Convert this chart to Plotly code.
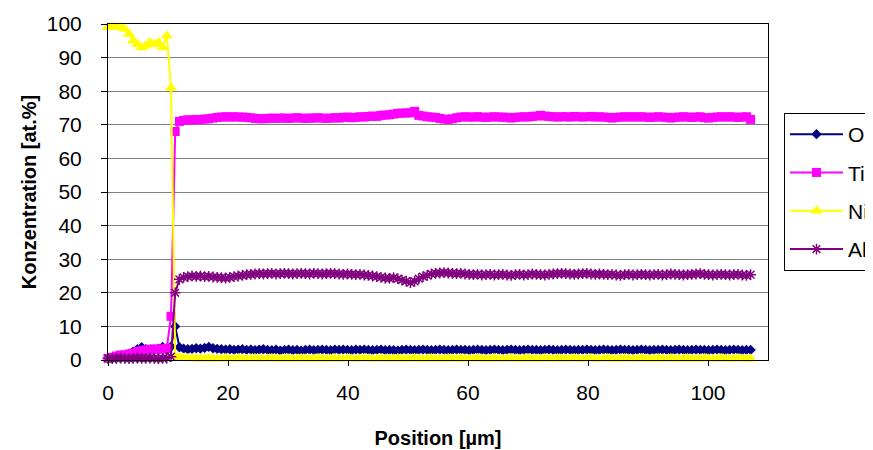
import plotly.graph_objects as go

position = [
    0.0, 0.7, 1.4, 2.1, 2.8, 3.5, 4.2, 4.9, 5.6, 6.3,
    7.0, 7.7, 8.4, 9.1, 9.8, 10.5, 11.2, 11.9, 12.6, 13.3,
    14.0, 14.7, 15.4, 16.1, 16.8, 17.5, 18.2, 18.9, 19.6, 20.3,
    21.0, 21.7, 22.4, 23.1, 23.8, 24.5, 25.2, 25.9, 26.6, 27.3,
    28.0, 28.7, 29.4, 30.1, 30.8, 31.5, 32.2, 32.9, 33.6, 34.3,
    35.0, 35.7, 36.4, 37.1, 37.8, 38.5, 39.2, 39.9, 40.6, 41.3,
    42.0, 42.7, 43.4, 44.1, 44.8, 45.5, 46.2, 46.9, 47.6, 48.3,
    49.0, 49.7, 50.4, 51.1, 51.8, 52.5, 53.2, 53.9, 54.6, 55.3,
    56.0, 56.7, 57.4, 58.1, 58.8, 59.5, 60.2, 60.9, 61.6, 62.3,
    63.0, 63.7, 64.4, 65.1, 65.8, 66.5, 67.2, 67.9, 68.6, 69.3,
    70.0, 70.7, 71.4, 72.1, 72.8, 73.5, 74.2, 74.9, 75.6, 76.3,
    77.0, 77.7, 78.4, 79.1, 79.8, 80.5, 81.2, 81.9, 82.6, 83.3,
    84.0, 84.7, 85.4, 86.1, 86.8, 87.5, 88.2, 88.9, 89.6, 90.3,
    91.0, 91.7, 92.4, 93.1, 93.8, 94.5, 95.2, 95.9, 96.6, 97.3,
    98.0, 98.7, 99.4, 100.1, 100.8, 101.5, 102.2, 102.9, 103.6, 104.3,
    105.0, 105.7, 106.4, 107.1,
]

o_values = [
    0.5, 0.5, 0.6, 0.8, 1.2, 1.8, 2.5, 3.2, 3.8, 3.2, 2.8, 3.0, 3.4, 3.9, 3.0, 4.0, 10.0,
    3.8, 3.4, 3.2, 3.3, 3.5, 3.4, 3.6, 3.9, 3.5, 3.3,
    3.2, 3.1, 3.2, 3.0, 3.1, 3.2, 3.0, 3.1, 2.9, 3.1,
    3.2, 3.0, 2.9, 3.1, 2.8, 3.0, 3.1, 2.9, 3.0, 2.8,
    3.0, 3.1, 2.9, 3.0, 3.1, 3.0, 2.9, 3.1, 3.0, 3.1,
    3.0, 2.9, 3.1, 3.0, 3.1, 3.0, 2.9, 3.0, 3.1, 2.9,
    3.0, 2.9, 2.8, 3.0, 3.1, 3.0, 2.9, 3.0, 3.1, 3.0,
    2.9, 3.0, 3.1, 3.0, 2.9, 3.0, 3.1, 3.0, 3.0, 2.9,
    3.0, 3.1, 3.0, 2.9, 3.0, 3.1, 3.0, 2.9, 3.0, 3.1,
    3.0, 2.9, 3.0, 3.1, 3.0, 3.0, 2.9, 3.0, 3.1, 3.0,
    2.9, 3.0, 3.1, 3.0, 2.9, 3.0, 3.0, 3.1, 3.0, 2.9,
    3.0, 3.1, 3.0, 2.9, 3.0, 3.1, 3.0, 3.0, 2.9, 3.0,
    3.1, 3.0, 2.9, 3.0, 3.0, 3.1, 3.0, 2.9, 3.0, 3.1,
    3.0, 2.9, 3.0, 3.1, 3.0, 3.0, 2.9, 3.0, 3.1, 3.0,
    2.9, 3.0, 3.1, 3.0, 2.9, 3.0, 3.0,
]

ti_values = [
    0.5, 0.8, 1.2, 1.5, 1.5, 1.8, 2.0, 2.5, 2.8, 3.0, 3.2, 3.3, 3.2, 3.3, 3.5, 13.0, 68.0,
    71.0, 71.3, 71.5, 71.4, 71.6, 71.5, 71.7, 71.8, 72.0, 72.2,
    72.3, 72.4, 72.3, 72.4, 72.3, 72.3, 72.2, 72.1, 71.9, 71.8,
    71.8, 71.9, 72.0, 71.9, 72.0, 72.0, 71.9, 72.0, 72.1, 72.0,
    71.9, 72.0, 72.0, 72.1, 72.0, 71.9, 72.0, 72.1, 72.0, 72.2,
    72.3, 72.1, 72.2, 72.4, 72.3, 72.5, 72.6, 72.5, 72.8, 72.9,
    73.0, 73.2, 73.4, 73.5, 73.5, 73.6, 74.0, 72.8, 72.6, 72.4,
    72.3, 72.2, 71.9, 71.7, 71.6, 71.8, 72.1, 72.3, 72.4, 72.3,
    72.3, 72.4, 72.3, 72.2, 72.3, 72.4, 72.3, 72.3, 72.2, 72.0,
    72.2, 72.3, 72.4, 72.3, 72.5, 72.6, 72.8, 72.6, 72.5, 72.4,
    72.3, 72.4, 72.4, 72.3, 72.5, 72.4, 72.3, 72.4, 72.5, 72.3,
    72.4, 72.3, 72.2, 72.0, 72.2, 72.3, 72.4, 72.3, 72.4, 72.3,
    72.4, 72.3, 72.2, 72.3, 72.4, 72.3, 72.2, 72.0, 72.2, 72.3,
    72.4, 72.3, 72.2, 72.3, 72.4, 72.1, 72.0, 72.2, 72.3, 72.4,
    72.3, 72.4, 72.3, 72.2, 72.3, 72.4, 71.6,
]

ni_values = [
    99.0, 99.2, 99.0, 99.1, 98.5, 97.0, 95.0, 94.0, 93.0, 93.5, 94.5, 94.0, 94.5, 93.0, 96.5, 81.0, 1.0,
    0.8, 0.6, 0.5, 0.4, 0.5, 0.3, 0.4, 0.5, 0.4, 0.3,
    0.4, 0.5, 0.3, 0.4, 0.5, 0.4, 0.3, 0.4, 0.5, 0.4,
    0.3, 0.4, 0.5, 0.4, 0.3, 0.5, 0.4, 0.3, 0.4, 0.5,
    0.4, 0.3, 0.4, 0.5, 0.4, 0.3, 0.4, 0.5, 0.4, 0.3,
    0.5, 0.4, 0.3, 0.4, 0.5, 0.4, 0.3, 0.4, 0.5, 0.4,
    0.3, 0.4, 0.5, 0.4, 0.3, 0.4, 0.5, 0.4, 0.3, 0.4,
    0.5, 0.4, 0.3, 0.4, 0.5, 0.4, 0.3, 0.5, 0.4, 0.3,
    0.4, 0.5, 0.4, 0.3, 0.4, 0.5, 0.4, 0.3, 0.4, 0.5,
    0.4, 0.3, 0.4, 0.5, 0.4, 0.3, 0.4, 0.5, 0.4, 0.3,
    0.5, 0.4, 0.3, 0.4, 0.5, 0.4, 0.3, 0.4, 0.5, 0.4,
    0.3, 0.4, 0.5, 0.4, 0.3, 0.4, 0.5, 0.4, 0.3, 0.4,
    0.5, 0.4, 0.3, 0.4, 0.5, 0.4, 0.3, 0.5, 0.4, 0.3,
    0.4, 0.5, 0.4, 0.3, 0.4, 0.5, 0.4, 0.3, 0.4, 0.5,
    0.4, 0.3, 0.4, 0.5, 0.4, 0.3, 0.4,
]

al_values = [
    0.5, 0.4, 0.5, 0.6, 0.5, 0.4, 0.5, 0.6, 0.5, 0.5, 0.6, 0.5, 0.4, 0.5, 0.6, 1.0, 20.0,
    24.0, 24.6, 24.8, 25.0, 24.9, 25.0, 24.8, 24.9, 24.7, 24.6,
    24.5, 24.4, 24.6, 24.8, 25.0, 25.2, 25.4, 25.5, 25.6, 25.7,
    25.6, 25.7, 25.8, 25.6, 25.7, 25.8, 25.7, 25.6, 25.7, 25.8,
    25.7, 25.6, 25.8, 25.7, 25.6, 25.7, 25.8, 25.7, 25.6, 25.5,
    25.6, 25.5, 25.4, 25.5, 25.3, 25.2, 25.0, 24.8, 24.6, 24.4,
    24.3, 24.5, 24.2, 23.8, 23.5, 23.0, 23.4, 24.2, 24.8, 25.2,
    25.6, 25.8, 25.9, 26.0, 25.9, 25.8, 25.7, 25.8, 25.6, 25.5,
    25.4, 25.5, 25.3, 25.4, 25.5, 25.3, 25.4, 25.5, 25.3, 25.2,
    25.4, 25.5, 25.3, 25.4, 25.6, 25.5, 25.4, 25.3, 25.5, 25.6,
    25.7, 25.8, 25.7, 25.6, 25.5, 25.6, 25.7, 25.8, 25.6, 25.5,
    25.6, 25.5, 25.4, 25.5, 25.3, 25.2, 25.4, 25.5, 25.3, 25.4,
    25.5, 25.4, 25.3, 25.4, 25.5, 25.3, 25.4, 25.6, 25.5, 25.4,
    25.3, 25.4, 25.5, 25.6, 25.7, 25.5, 25.4, 25.3, 25.4, 25.5,
    25.4, 25.3, 25.4, 25.5, 25.3, 25.2, 25.4,
]

series_names = ["O", "Ti", "Ni", "Al"]
x_tick_values = [0, 20, 40, 60, 80, 100]
y_tick_values = [0, 10, 20, 30, 40, 50, 60, 70, 80, 90, 100]

styles = [
    dict(color="#000080", symbol="diamond", size=8),
    dict(color="#FF00FF", symbol="square", size=9),
    dict(color="#FFFF00", symbol="triangle-up", size=11),
    dict(color="#800080", symbol="asterisk-open", size=9),
]

PAD = "\u00a0" * 8  # legend box runs past the right edge in the reference

fig = go.Figure()
for name, vals, st in zip(series_names, [o_values, ti_values, ni_values, al_values], styles):
    marker = dict(symbol=st["symbol"], size=st["size"], color=st["color"])
    if st["symbol"] == "asterisk-open":
        marker["line"] = dict(color=st["color"], width=1.5)
    fig.add_trace(go.Scatter(
        x=position, y=vals, name=name + PAD, mode="lines+markers",
        line=dict(color=st["color"], width=2),
        marker=marker, cliponaxis=False, legendgroup=name,
    ))

FONT = "Liberation Sans, Arial, sans-serif"

# page body adds an 8px offset at top-left, so the figure is 8px smaller
fig.update_layout(
    width=865, height=442,
    margin=dict(l=100, r=105, t=16, b=90, autoexpand=False),
    paper_bgcolor="white", plot_bgcolor="white",
    font=dict(family=FONT, color="black"),
    showlegend=True,
    legend=dict(
        x=(784 - 108) / 660, y=(360 - 113) / 336, xanchor="left", yanchor="top",
        bordercolor="black", borderwidth=1, bgcolor="white",
        font=dict(family=FONT, size=21, color="black"),
        tracegroupgap=8, itemwidth=53,
    ),
    xaxis=dict(
        range=[0, 110], tickvals=x_tick_values, showgrid=False, zeroline=False,
        showline=True, linecolor="black", linewidth=1, mirror=True,
        ticks="outside", ticklen=5, tickcolor="black",
        tickfont=dict(family=FONT, size=21), ticklabelstandoff=9,
        title=dict(text="<b>Position [µm]</b>", font=dict(family=FONT, size=20), standoff=27),
    ),
    yaxis=dict(
        range=[0, 100], tickvals=y_tick_values, showgrid=True, gridcolor="#808080",
        gridwidth=1, zeroline=False,
        showline=True, linecolor="black", linewidth=1, mirror=True,
        ticks="outside", ticklen=6, tickcolor="black",
        tickfont=dict(family=FONT, size=21), ticklabelstandoff=15,
        title=dict(text="<b>Konzentration [at.%]</b>", font=dict(family=FONT, size=20), standoff=4),
    ),
)

fig.write_html("out.html")
